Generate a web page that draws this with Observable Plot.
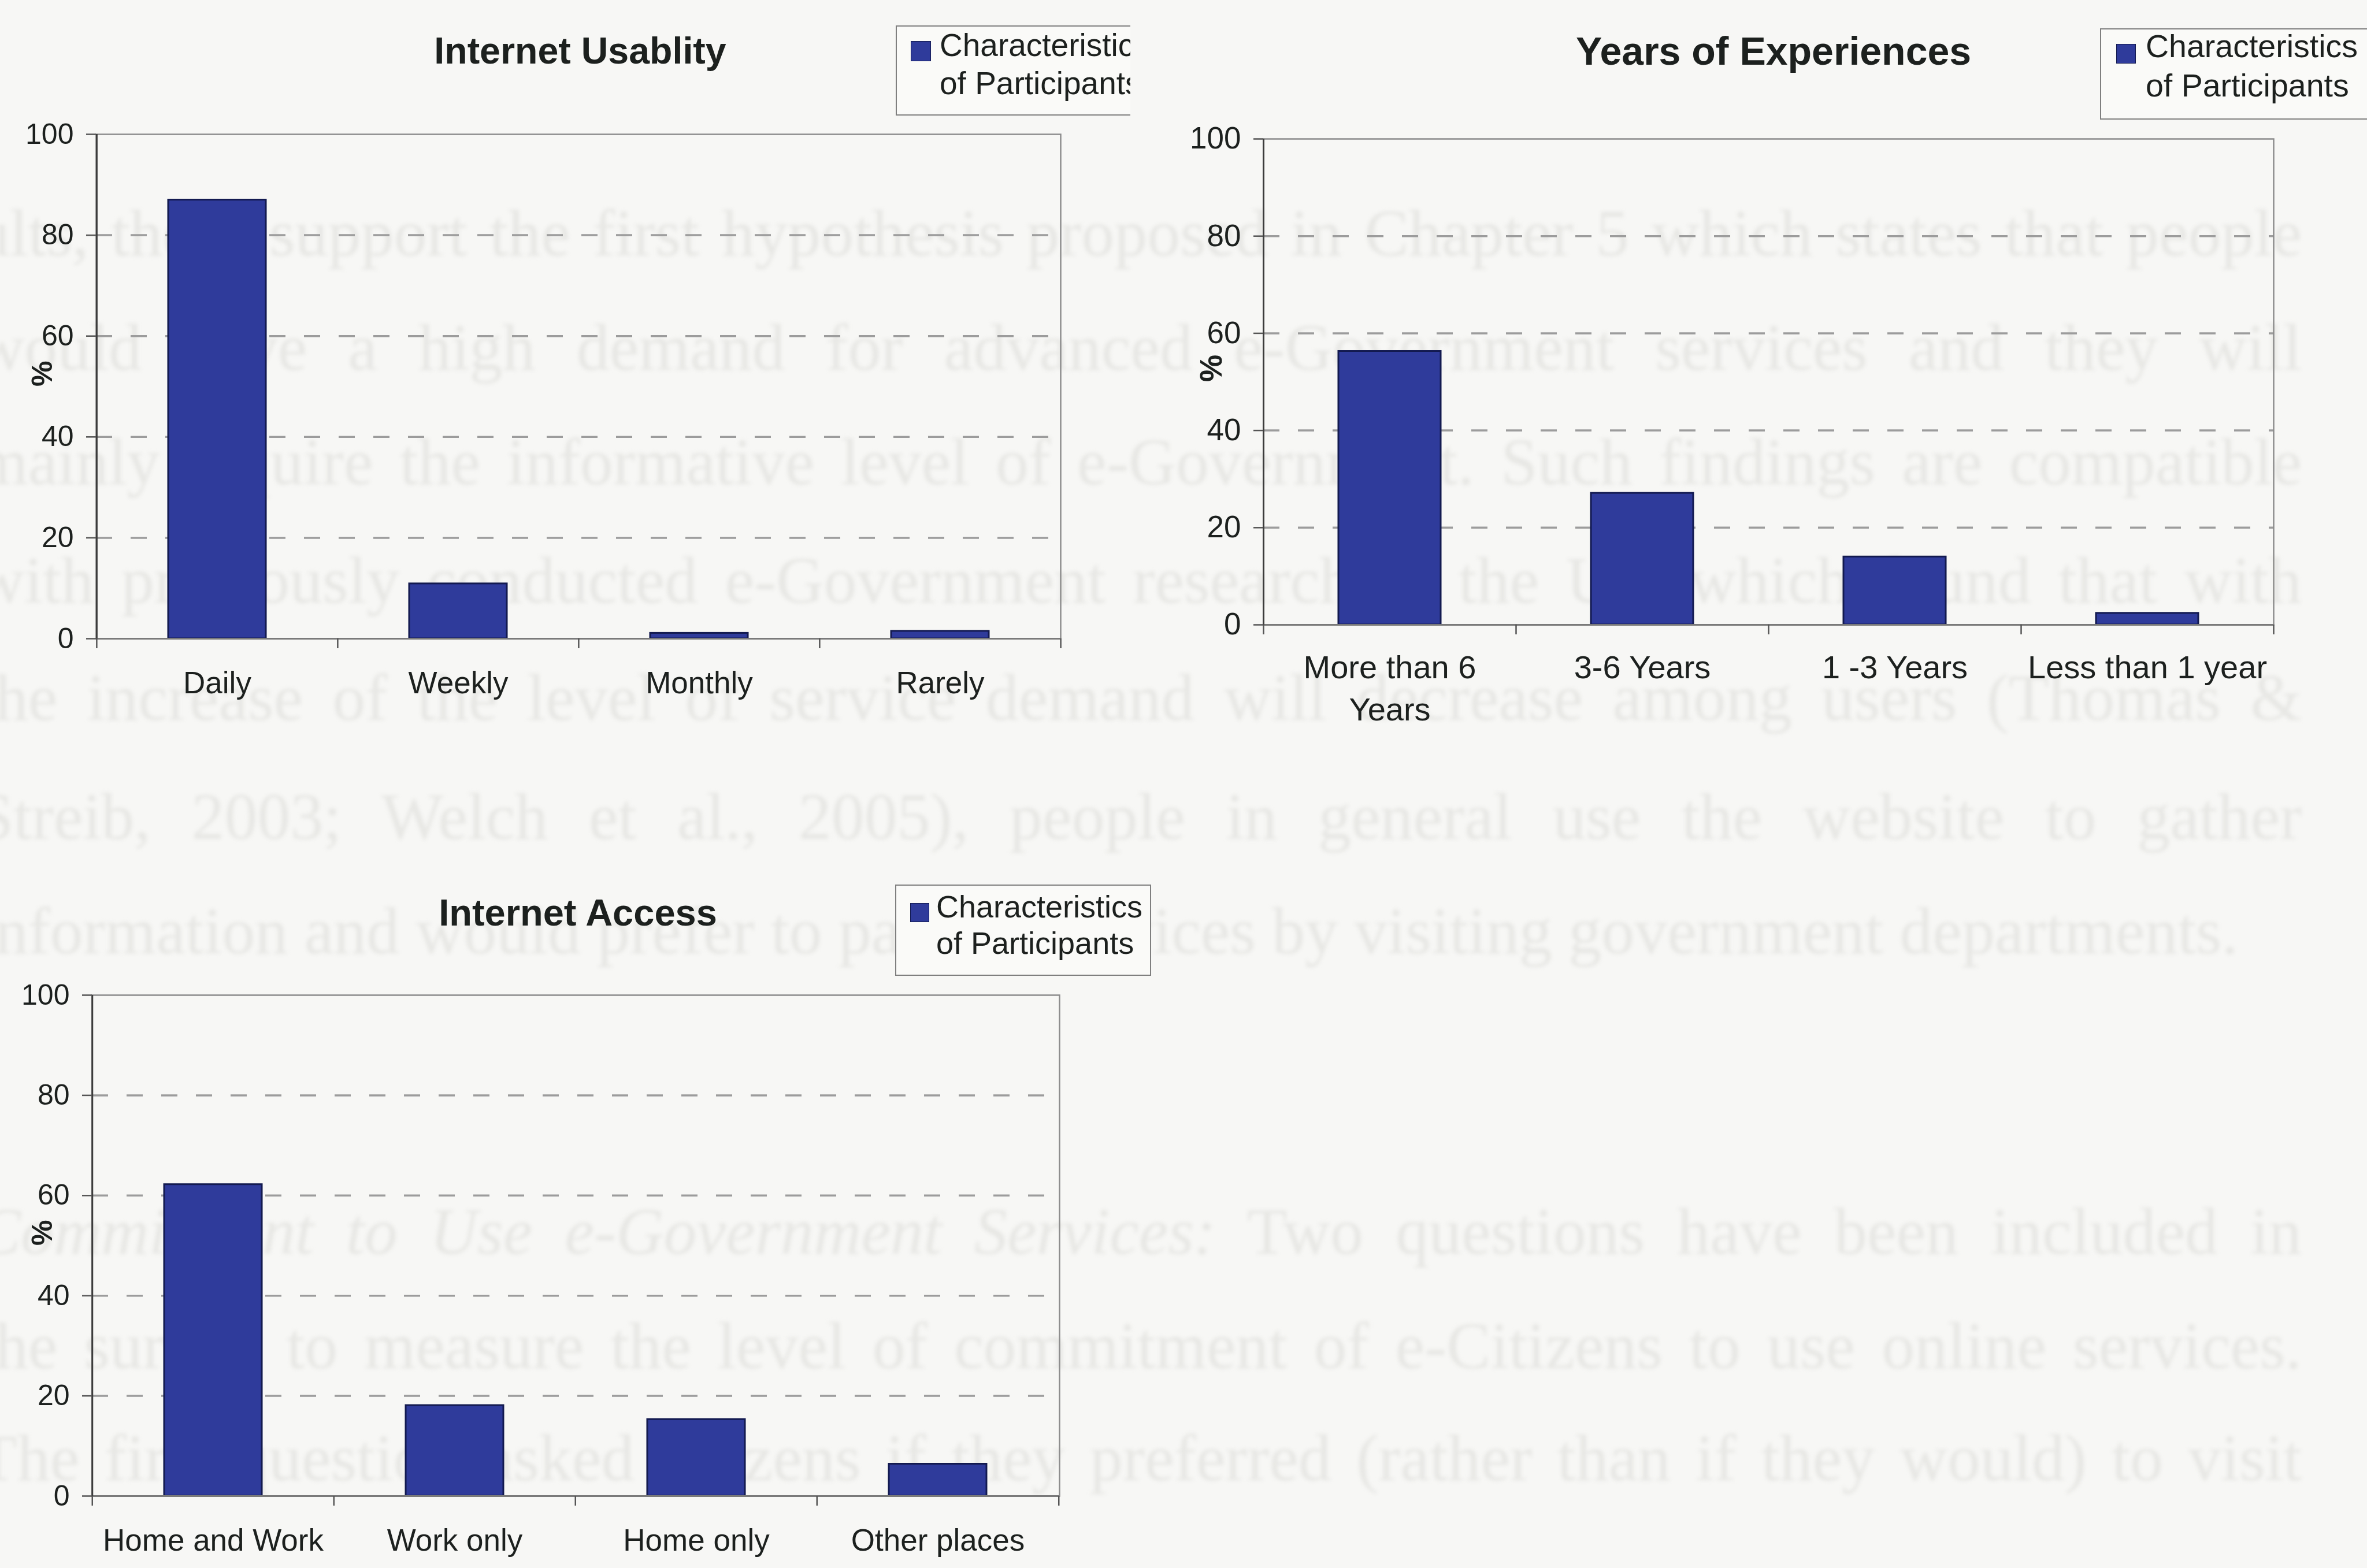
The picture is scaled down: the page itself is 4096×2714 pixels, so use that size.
<!DOCTYPE html>
<html>
<head>
<meta charset="utf-8">
<script src="https://cdn.jsdelivr.net/npm/d3@7"></script>
<script src="https://cdn.jsdelivr.net/npm/@observablehq/plot@0.6"></script>
<style>
  html, body { margin: 0; padding: 0; background: #f7f7f5; }
  body { width: 4096px; height: 2714px; position: relative; overflow: hidden;
         font-family: "Liberation Sans", Arial, sans-serif; color: #1c201e; }
  .page { position: absolute; left: 0; top: 0; width: 4096px; height: 2714px;
          filter: blur(3px); color: #e7e7e4; font-family: "Liberation Serif", serif; font-size: 114px; }
  .page div { position: absolute; left: -40px; width: 4023px; white-space: nowrap;
              text-align: justify; text-align-last: justify; line-height: 1; }
  .page div.last { text-align-last: left; }
  .chart { position: absolute; }
  .title { position: absolute; font-weight: bold; white-space: nowrap; line-height: 1; transform: translateX(-50%); }
  .clip { position: absolute; overflow: hidden; }
  .box { position: absolute; border: 2.5px solid #7f7f7f; background: #fafaf8; box-sizing: border-box; }
  .swatch { position: absolute; background: #2f3b9b; border: 1.5px solid #131a50; box-sizing: border-box; }
  .ltext { position: absolute; white-space: nowrap; line-height: 1; }
</style>
</head>
<body>
<div class="page" id="page"></div>
<div id="charts"></div>
<script>
// ---- data ----
const usageCats = ["Daily", "Weekly", "Monthly", "Rarely"];
const usageVals = [87.0, 10.9, 1.1, 1.5];

const expCats = ["More than 6 Years", "3-6 Years", "1 -3 Years", "Less than 1 year"];
const expLabels = ["More than 6\nYears", "3-6 Years", "1 -3 Years", "Less than 1 year"];
const expVals = [56.3, 27.1, 14.0, 2.4];

const accessCats = ["Home and Work", "Work only", "Home only", "Other places"];
const accessVals = [62.2, 18.1, 15.3, 6.4];

const yTicks = [0, 20, 40, 60, 80, 100];
const gridTicks = [20, 40, 60, 80];
const titles = ["Internet Usablity", "Years of Experiences", "Internet Access"];
const seriesName = ["Characteristics", "of Participants"];

// surrounding page text, faintly showing through
const pageLines = [
  "ults, these support the first hypothesis proposed in Chapter 5 which states that people",
  "would have a high demand for advanced e-Government services and they will",
  "mainly require the informative level of e-Government. Such findings are compatible",
  "with previously conducted e-Government research in the UK which found that with",
  "the increase of the level of service demand will decrease among users (Thomas &",
  "Streib, 2003; Welch et al., 2005), people in general use the website to gather",
  "information and would prefer to pay for services by visiting government departments.",
  "<i>Commitment to Use e-Government Services:</i> Two questions have been included in",
  "the survey to measure the level of commitment of e-Citizens to use online services.",
  "The first question asked citizens if they preferred (rather than if they would) to visit"
];
const pageBaselines = [442, 640, 838, 1043, 1246, 1452, 1650, 2170, 2368, 2562];

const BAR = "#2f3b9b";
const EDGE = "#131a50";
const INK = "#1c201e";

// ---- page text layer ----
const page = document.getElementById("page");
pageLines.forEach((t, i) => {
  const d = document.createElement("div");
  d.innerHTML = t;
  if (i === 6) d.className = "last";
  d.style.top = (pageBaselines[i] - 0.8375 * 114) + "px";
  page.appendChild(d);
});

// ---- charts ----
function barChart({cats, vals, labels, width, height, ml, mr, mt, mb, pctDx, labelDy, labelLH, fs, tfs}) {
  const data = cats.map((c, i) => ({cat: c, value: vals[i], label: labels[i]}));
  const step = (width - ml - mr) / cats.length;
  return Plot.plot({
    width, height,
    marginLeft: ml, marginRight: mr, marginTop: mt, marginBottom: mb,
    style: {background: "transparent", overflow: "visible", color: INK,
            fontFamily: "'Liberation Sans', Arial, sans-serif"},
    x: {domain: cats, paddingInner: 0.595, paddingOuter: 0.2975},
    y: {domain: [0, 100]},
    marks: [
      Plot.gridY(gridTicks, {stroke: "#9c9c9c", strokeOpacity: 1, strokeWidth: 3.5, strokeDasharray: "28,32"}),
      Plot.frame({stroke: "#8c8c8c", strokeWidth: 2.5}),
      Plot.barY(data, {x: "cat", y: "value", fill: BAR, stroke: EDGE, strokeWidth: 3}),
      Plot.ruleY([0], {stroke: "#7a7a7a", strokeWidth: 3}),
      Plot.ruleX([cats[0]], {dx: -step / 2, stroke: "#3c3c3c", strokeWidth: 3}),
      Plot.axisY(yTicks, {tickSize: 17, tickPadding: 22, fontSize: tfs, stroke: "#555", strokeWidth: 2.5, label: null}),
      // ticks on the category boundaries
      Plot.axisX(cats, {tickSize: 17, tickFormat: () => "", dx: -step / 2, stroke: "#555", strokeWidth: 2.5, label: null}),
      Plot.axisX([cats[cats.length - 1]], {tickSize: 17, tickFormat: () => "", dx: step / 2, stroke: "#555", strokeWidth: 2.5, label: null}),
      Plot.text(data, {x: "cat", text: "label", frameAnchor: "bottom", lineAnchor: "top",
                       dy: labelDy, fontSize: fs, lineHeight: labelLH, fill: INK}),
      Plot.text(["%"], {text: d => d, frameAnchor: "left", dx: pctDx, rotate: -90,
                        fontWeight: "bold", fontSize: tfs, fill: INK})
    ]
  });
}

function place(el, left, top) {
  el.classList.add("chart");
  el.style.left = left + "px";
  el.style.top = top + "px";
  document.getElementById("charts").appendChild(el);
}

place(barChart({cats: usageCats, vals: usageVals, labels: usageCats,
  width: 2000, height: 1260, ml: 166, mr: 165, mt: 232, mb: 155,
  pctDx: -93, labelDy: 43, labelLH: 1.36, fs: 53, tfs: 50}), 0, 0);

place(barChart({cats: expCats, vals: expVals, labels: expLabels,
  width: 2096, height: 1320, ml: 186, mr: 162, mt: 240, mb: 239,
  pctDx: -89, labelDy: 41, labelLH: 1.3, fs: 56, tfs: 53}), 2000, 0);

place(barChart({cats: accessCats, vals: accessVals, labels: accessCats,
  width: 2000, height: 1264, ml: 159, mr: 167, mt: 272, mb: 125,
  pctDx: -86, labelDy: 43, labelLH: 1.36, fs: 53, tfs: 50}), 0, 1450);

// ---- titles ----
function title(text, cx, baseline, size) {
  const d = document.createElement("div");
  d.className = "title";
  d.textContent = text;
  d.style.fontSize = size + "px";
  d.style.left = cx + "px";
  d.style.top = (baseline - 0.847 * size) + "px";
  document.body.appendChild(d);
}
title(titles[0], 1004, 111, 64.5);
title(titles[1], 3069, 112, 68);
title(titles[2], 1000, 1602, 65);

// ---- legends ----
function legend({clip, box, sw, tx, baselines, size}) {
  const c = document.createElement("div");
  c.className = "clip";
  Object.assign(c.style, {left: clip.l + "px", top: clip.t + "px", width: clip.w + "px", height: clip.h + "px"});
  const b = document.createElement("div");
  b.className = "box";
  Object.assign(b.style, {left: (box.l - clip.l) + "px", top: (box.t - clip.t) + "px",
                          width: box.w + "px", height: box.h + "px"});
  c.appendChild(b);
  const s = document.createElement("div");
  s.className = "swatch";
  Object.assign(s.style, {left: (sw.x - clip.l) + "px", top: (sw.y - clip.t) + "px",
                          width: sw.s + "px", height: sw.s + "px"});
  c.appendChild(s);
  seriesName.forEach((t, i) => {
    const l = document.createElement("div");
    l.className = "ltext";
    l.textContent = t;
    l.style.fontSize = size + "px";
    l.style.left = (tx - clip.l) + "px";
    l.style.top = (baselines[i] - 0.847 * size - clip.t) + "px";
    c.appendChild(l);
  });
  document.body.appendChild(c);
}
legend({clip: {l: 1540, t: 36, w: 416, h: 175}, box: {l: 1550, t: 44, w: 480, h: 156},
        sw: {x: 1576, y: 71, s: 35}, tx: 1626, baselines: [98, 164], size: 55});
legend({clip: {l: 3620, t: 40, w: 476, h: 180}, box: {l: 3634, t: 49, w: 520, h: 158},
        sw: {x: 3662, y: 76, s: 34}, tx: 3713, baselines: [100, 168], size: 55.5});
legend({clip: {l: 1540, t: 1520, w: 470, h: 180}, box: {l: 1549, t: 1531, w: 443, h: 158},
        sw: {x: 1575, y: 1563, s: 33}, tx: 1620, baselines: [1588, 1651], size: 54});
</script>
</body>
</html>
